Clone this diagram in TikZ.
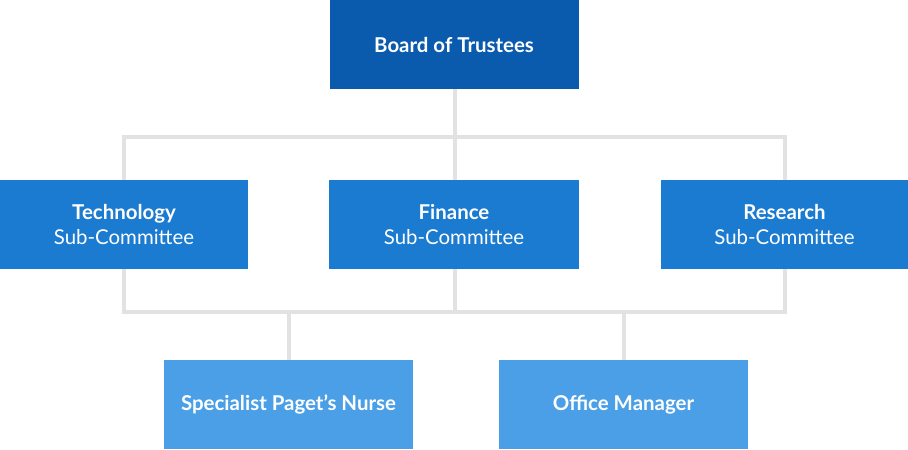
\documentclass[tikz,border=0pt]{standalone}
\usepackage{fontspec}
\setmainfont{Lato}
\begin{document}
\begin{tikzpicture}[x=1bp,y=-1bp,
  box/.style={minimum width=249bp,minimum height=89bp,inner sep=0pt,
    text=white,align=center,font=\fontsize{20.5}{24.5}\selectfont},
  topbox/.style={box,fill=topblue},
  midbox/.style={box,fill=midblue},
  lowbox/.style={box,fill=lowblue},
  link/.style={draw=linkgrey,line width=4bp}]
\definecolor{topblue}{HTML}{0A5AAD}
\definecolor{midblue}{HTML}{1B7BD0}
\definecolor{lowblue}{HTML}{4A9FE6}
\definecolor{linkgrey}{HTML}{E2E2E2}
\useasboundingbox (0,0) rectangle (908,450);
% boxes
\node[topbox] (board) at (454,44.5) {\bfseries Board of Trustees};
\node[midbox,minimum width=248bp] (tech) at (124,224.5) {\bfseries Technology\\Sub-Committee};
\node[midbox,minimum width=250bp] (fin) at (454,224.5) {\bfseries Finance\\Sub-Committee};
\node[midbox,minimum width=247bp] (res) at (784.5,224.5) {\bfseries Research\\Sub-Committee};
\node[lowbox] (nurse) at (288.5,404.5) {\bfseries Specialist Paget’s Nurse};
\node[lowbox] (office) at (623.5,404.5) {\bfseries Office Manager};
% connector rails
\coordinate (railTop) at (455,137);
\coordinate (railLow) at (455,312);
% connectors
\draw[link] (board.south -| railTop) -- (railTop);
\draw[link] (tech.north) |- (railTop) -| (res.north);
\draw[link] (railTop) -- (fin.north -| railTop);
\draw[link] (tech.south) |- (railLow) -| (res.south);
\draw[link] (fin.south -| railLow) -- (railLow);
\draw[link] (nurse.north) -- (nurse.north |- railLow);
\draw[link] (office.north) -- (office.north |- railLow);
\end{tikzpicture}
\end{document}
